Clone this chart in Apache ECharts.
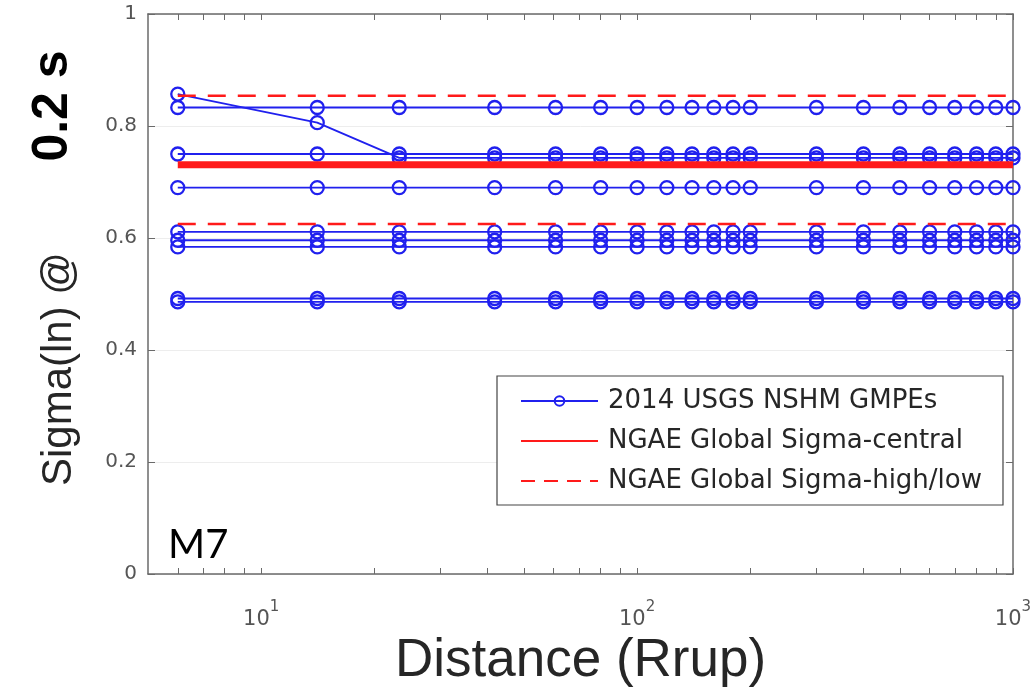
<!DOCTYPE html>
<html><head><meta charset="utf-8">
<script src="https://cdn.jsdelivr.net/npm/echarts@6/dist/echarts.min.js"></script>
<style>html,body{margin:0;padding:0;background:#fff}#c{width:1033px;height:692px}</style>
</head><body><div id="c"></div>
<script>
// Distances (Rrup, km) at which the GMPE sigmas are plotted
const distances = [6, 14.1, 23.3, 41.8, 60.7, 80, 100, 120, 140, 160, 180, 200, 300, 400, 500, 600, 700, 800, 900, 1000];
// 2014 USGS NSHM GMPE sigma(ln) values at 0.2 s, M7
const gmpe1 = [0.857, 0.806, 0.743, 0.743, 0.743, 0.743, 0.743, 0.743, 0.743, 0.743, 0.743, 0.743, 0.743, 0.743, 0.743, 0.743, 0.743, 0.743, 0.743, 0.743];
const gmpe2 = [0.833, 0.833, 0.833, 0.833, 0.833, 0.833, 0.833, 0.833, 0.833, 0.833, 0.833, 0.833, 0.833, 0.833, 0.833, 0.833, 0.833, 0.833, 0.833, 0.833];
const gmpe3 = [0.750, 0.750, 0.750, 0.750, 0.750, 0.750, 0.750, 0.750, 0.750, 0.750, 0.750, 0.750, 0.750, 0.750, 0.750, 0.750, 0.750, 0.750, 0.750, 0.750];
const gmpe4 = [0.690, 0.690, 0.690, 0.690, 0.690, 0.690, 0.690, 0.690, 0.690, 0.690, 0.690, 0.690, 0.690, 0.690, 0.690, 0.690, 0.690, 0.690, 0.690, 0.690];
const gmpe5 = [0.611, 0.611, 0.611, 0.611, 0.611, 0.611, 0.611, 0.611, 0.611, 0.611, 0.611, 0.611, 0.611, 0.611, 0.611, 0.611, 0.611, 0.611, 0.611, 0.611];
const gmpe6 = [0.596, 0.596, 0.596, 0.596, 0.596, 0.596, 0.596, 0.596, 0.596, 0.596, 0.596, 0.596, 0.596, 0.596, 0.596, 0.596, 0.596, 0.596, 0.596, 0.596];
const gmpe7 = [0.584, 0.584, 0.584, 0.584, 0.584, 0.584, 0.584, 0.584, 0.584, 0.584, 0.584, 0.584, 0.584, 0.584, 0.584, 0.584, 0.584, 0.584, 0.584, 0.584];
const gmpe8 = [0.492, 0.492, 0.492, 0.492, 0.492, 0.492, 0.492, 0.492, 0.492, 0.492, 0.492, 0.492, 0.492, 0.492, 0.492, 0.492, 0.492, 0.492, 0.492, 0.492];
const gmpe9 = [0.486, 0.486, 0.486, 0.486, 0.486, 0.486, 0.486, 0.486, 0.486, 0.486, 0.486, 0.486, 0.486, 0.486, 0.486, 0.486, 0.486, 0.486, 0.486, 0.486];
const gmpeSeries = [gmpe1, gmpe2, gmpe3, gmpe4, gmpe5, gmpe6, gmpe7, gmpe8, gmpe9];
// NGA-East global sigma model
const ngaeCentral = 0.731;
const ngaeHigh = 0.854;
const ngaeLow = 0.625;
// Axis ticks
const xLabelValues = [10, 100, 1000];
const xTickValues = [6, 7, 8, 9, 10, 20, 30, 40, 50, 60, 70, 80, 90, 100, 200, 300, 400, 500, 600, 700, 800, 900, 1000];
const yLabelValues = [0, 0.2, 0.4, 0.6, 0.8, 1];

const NAME_GMPE = '2014 USGS NSHM GMPEs';
const NAME_C = 'NGAE Global Sigma-central';
const NAME_HL = 'NGAE Global Sigma-high/low';
const BLUE = '#2020ee';
const RED = '#ff1a1a';
const FRAME = '#6a6a6a';

const pairs = arr => distances.map((d, i) => [d, arr[i]]);
const flat = v => [[distances[0], v], [distances[distances.length - 1], v]];

const series = [];
gmpeSeries.forEach(s => series.push({
  name: NAME_GMPE, type: 'line', data: pairs(s),
  xAxisIndex: 0, yAxisIndex: 0,
  symbol: 'circle', symbolSize: 13,
  lineStyle: {color: BLUE, width: 1.8},
  itemStyle: {color: 'rgba(255,255,255,0)', borderColor: BLUE, borderWidth: 2.3},
  z: 2
}));
series.push({name: NAME_C, type: 'line', data: flat(ngaeCentral), symbol: 'none',
  lineStyle: {color: RED, width: 7}, itemStyle: {color: RED}, z: 3});
series.push({name: NAME_HL, type: 'line', data: flat(ngaeHigh), symbol: 'none',
  lineStyle: {color: RED, width: 2.5, type: [18, 12]}, itemStyle: {color: RED}, z: 3});
series.push({name: NAME_HL, type: 'line', data: flat(ngaeLow), symbol: 'none',
  lineStyle: {color: RED, width: 2.5, type: [18, 12]}, itemStyle: {color: RED}, z: 3});

const chart = echarts.init(document.getElementById('c'), null, {renderer: 'canvas'});
chart.setOption({
  animation: false,
  backgroundColor: '#fff',
  grid: {left: 148, right: 20, top: 14, bottom: 118, containLabel: false, outerBoundsMode: 'none'},
  xAxis: [{
    type: 'log', logBase: 10, min: 5, max: 1000, position: 'bottom',
    name: 'Distance (Rrup)', nameLocation: 'middle', nameGap: 59,
    nameTextStyle: {fontFamily: 'Liberation Sans', fontSize: 53, color: '#262626'},
    axisLine: {show: true, onZero: false, lineStyle: {color: FRAME, width: 1.5}},
    axisTick: {show: true, inside: true, length: 6, customValues: xTickValues, lineStyle: {color: FRAME}},
    axisLabel: {show: true, customValues: xLabelValues, margin: 26,
      fontFamily: 'DejaVu Sans', color: '#555',
      formatter: v => '{b|10}{s|' + Math.round(Math.log10(v)) + '}',
      rich: {b: {fontSize: 21, fontFamily: 'DejaVu Sans', color: '#555', verticalAlign: 'bottom', lineHeight: 30},
             s: {fontSize: 15, fontFamily: 'DejaVu Sans', color: '#555', verticalAlign: 'top', lineHeight: 30}}},
    splitLine: {show: false}, minorTick: {show: false}
  }, {
    type: 'log', logBase: 10, min: 5, max: 1000, position: 'top',
    axisLine: {show: true, onZero: false, lineStyle: {color: FRAME, width: 1.5}},
    axisTick: {show: true, inside: true, length: 6, customValues: xTickValues, lineStyle: {color: FRAME}},
    axisLabel: {show: false}, splitLine: {show: false}
  }],
  yAxis: [{
    type: 'value', min: 0, max: 1, interval: 0.2, position: 'left',
    name: 'Sigma(ln) @', nameLocation: 'middle', nameGap: 68, nameRotate: 90,
    nameTextStyle: {fontFamily: 'Liberation Sans', fontSize: 42, color: '#262626', padding: [0, 150, 0, 0]},
    axisLine: {show: true, onZero: false, lineStyle: {color: FRAME, width: 1.5}},
    axisTick: {show: true, inside: true, length: 7, lineStyle: {color: FRAME}},
    axisLabel: {show: true, margin: 11, fontFamily: 'DejaVu Sans', fontSize: 20, color: '#555',
      formatter: v => String(Math.round(v * 10) / 10)},
    splitLine: {show: true, lineStyle: {color: '#ededed', width: 1}}
  }, {
    type: 'value', min: 0, max: 1, interval: 0.2, position: 'right',
    axisLine: {show: true, onZero: false, lineStyle: {color: FRAME, width: 1.5}},
    axisTick: {show: true, inside: true, length: 7, lineStyle: {color: FRAME}},
    axisLabel: {show: false}, splitLine: {show: false}
  }],
  legend: {
    orient: 'vertical', left: 497, top: 376,
    padding: [11, 21, 10, 23], itemWidth: 77, itemHeight: 12, itemGap: 12,
    backgroundColor: '#fff', borderColor: '#444', borderWidth: 1.2, borderRadius: 0,
    textStyle: {fontFamily: 'DejaVu Sans', fontSize: 26, color: '#262626', lineHeight: 28, padding: [0, 0, 0, 5]},
    data: [
      {name: NAME_GMPE},
      {name: NAME_C, lineStyle: {width: 2}, itemStyle: {opacity: 0}},
      {name: NAME_HL, lineStyle: {width: 2, type: [14, 9]}, itemStyle: {opacity: 0}}
    ]
  },
  graphic: [
    {type: 'text', left: 168, top: 525, z: 100,
     style: {text: 'M7', font: '40px Lato', fill: '#000'}},
    {type: 'text', x: 53, y: 106, rotation: Math.PI / 2, z: 100,
     style: {text: '0.2 s', font: 'bold 50px "Liberation Sans"', fill: '#000', align: 'center', verticalAlign: 'middle'}}
  ],
  series: series
});
</script>
</body></html>
